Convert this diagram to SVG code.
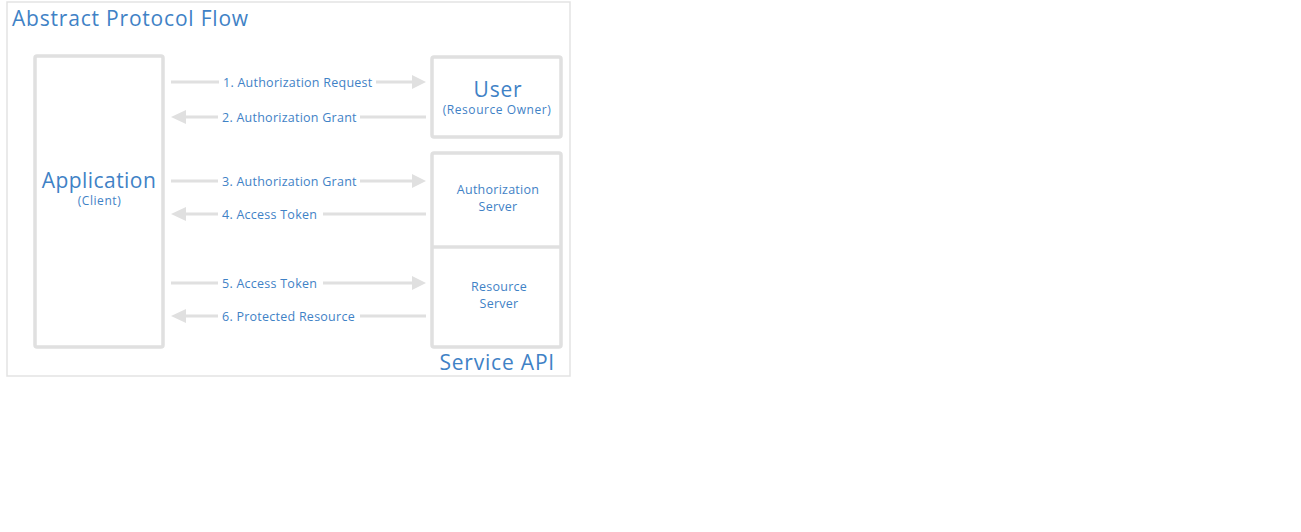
<svg xmlns="http://www.w3.org/2000/svg" width="1301" height="532" viewBox="0 0 1301 532">
<style>
.frame{fill:none;stroke:#e3e3e3;stroke-width:1.5}
.box{fill:#fff;stroke:#e0e0e0;stroke-width:3.5}
.ln{stroke:#e0e0e0;stroke-width:3;fill:none}
.hd{fill:#e0e0e0}
.bg{fill:#fff}
text{font-family:"Open Sans","Liberation Sans",Arial,sans-serif;fill:#3f82c6}
.big{font-size:21px;letter-spacing:0.8px}
.lbl{font-size:12.5px;letter-spacing:0.25px}
.sm{font-size:12px;letter-spacing:0.55px}
.mid{text-anchor:middle}
</style>
<rect class="frame" x="7" y="2" width="563" height="374"/>
<text class="big" x="12" y="26">Abstract Protocol Flow</text>
<g id="application">
<rect class="box" x="35" y="56" width="128" height="291" rx="2"/>
<text class="big mid" x="99" y="187.5" style="letter-spacing:0.45px">Application</text>
<text class="sm mid" x="99.5" y="205">(Client)</text>
</g>
<g id="user">
<rect class="box" x="432" y="57" width="129" height="80" rx="2"/>
<text class="big mid" x="498" y="97">User</text>
<text class="sm mid" x="497" y="114">(Resource Owner)</text>
</g>
<g id="service-api">
<rect class="box" x="432" y="153" width="129" height="194" rx="2"/>
<line class="ln" x1="432" y1="247" x2="561" y2="247" style="stroke-width:3.5"/>
<text class="big" x="555" y="370" text-anchor="end">Service API</text>
</g>
<g id="authorization-server">
<text class="lbl mid" x="498" y="194">Authorization</text>
<text class="lbl mid" x="498" y="211">Server</text>
</g>
<g id="resource-server">
<text class="lbl mid" x="499" y="291">Resource</text>
<text class="lbl mid" x="499" y="308">Server</text>
</g>
<g id="connectors">
<line class="ln" x1="171" y1="82" x2="414" y2="82"/>
<polygon class="hd" points="412,75 426,82 412,89"/>
<rect class="bg" x="219" y="74" width="157" height="16"/>
<text class="lbl" x="223" y="86.5">1. Authorization Request</text>

<line class="ln" x1="184" y1="117" x2="426" y2="117"/>
<polygon class="hd" points="186,110 171,117 186,124"/>
<rect class="bg" x="218" y="109" width="142" height="16"/>
<text class="lbl" x="222" y="121.5">2. Authorization Grant</text>

<line class="ln" x1="171" y1="181" x2="414" y2="181"/>
<polygon class="hd" points="412,174 426,181 412,188"/>
<rect class="bg" x="218" y="173" width="142" height="16"/>
<text class="lbl" x="222" y="185.5">3. Authorization Grant</text>

<line class="ln" x1="184" y1="214" x2="426" y2="214"/>
<polygon class="hd" points="186,207 171,214 186,221"/>
<rect class="bg" x="218" y="206" width="105" height="16"/>
<text class="lbl" x="222" y="218.5">4. Access Token</text>

<line class="ln" x1="171" y1="283" x2="414" y2="283"/>
<polygon class="hd" points="412,276 426,283 412,290"/>
<rect class="bg" x="218" y="275" width="105" height="16"/>
<text class="lbl" x="222" y="287.5">5. Access Token</text>

<line class="ln" x1="184" y1="316" x2="426" y2="316"/>
<polygon class="hd" points="186,309 171,316 186,323"/>
<rect class="bg" x="218" y="308" width="142" height="16"/>
<text class="lbl" x="222" y="320.5">6. Protected Resource</text>
</g>
</svg>
